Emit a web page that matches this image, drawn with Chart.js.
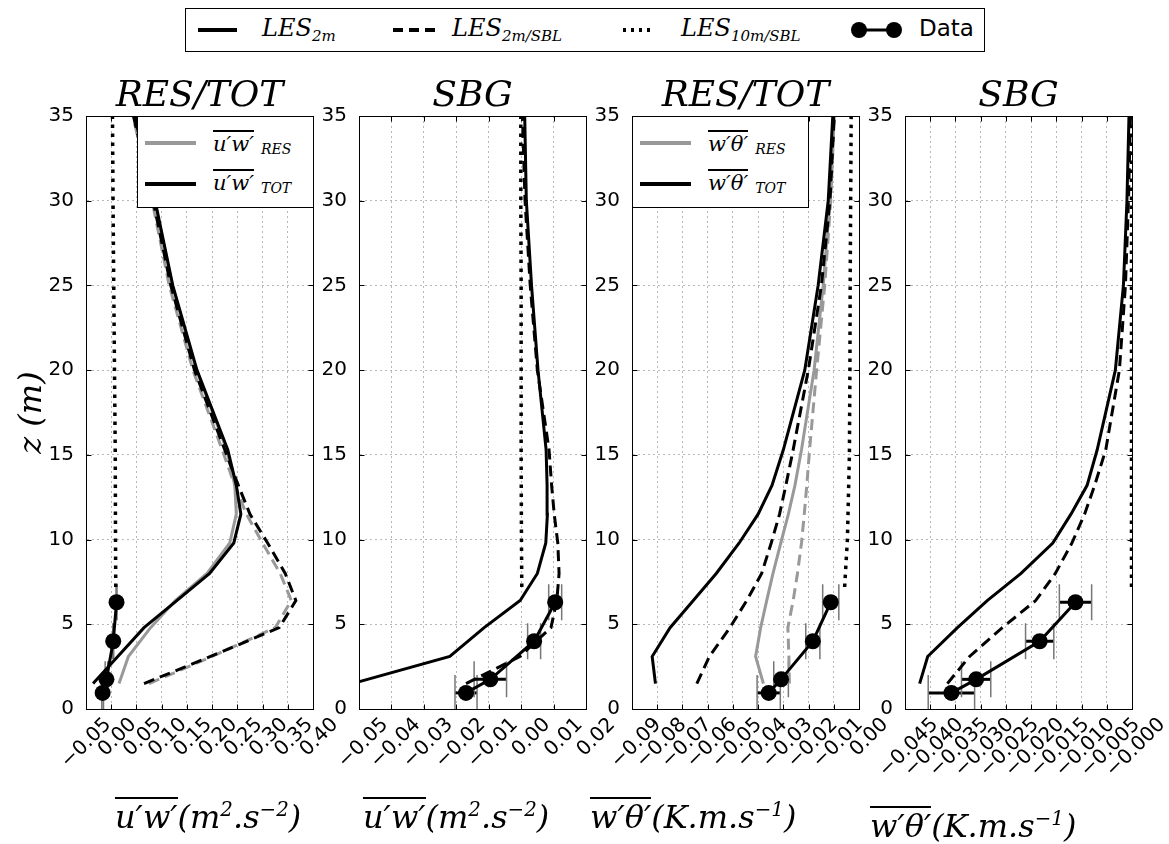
<!DOCTYPE html>
<html><head><meta charset="utf-8">
<script src="https://cdn.jsdelivr.net/npm/chart.js@4.4.1/dist/chart.umd.min.js"></script>
<style>
body{margin:0;background:#fff;}
#wrap{position:relative;width:1169px;height:844px;overflow:hidden;background:#fff;}
#wrap canvas{position:absolute;top:0;}
.m{font-family:"DejaVu Serif",serif;font-style:italic;color:#000;white-space:nowrap;}
.ov{display:inline-block;border-top:2px solid #000;line-height:1;padding-top:2px;}
.abs{position:absolute;}
.plg{position:absolute;background:#fff;border:1px solid #000;box-sizing:border-box;z-index:5;}
.ls{position:absolute;height:4px;}
sup{font-size:0.62em;vertical-align:0.6em;line-height:0;}
</style></head>
<body>
<div id="wrap">
  <canvas id="c1" width="359" height="844" style="left:0px"></canvas>
  <canvas id="c2" width="319" height="844" style="left:313px"></canvas>
  <canvas id="c3" width="319" height="844" style="left:586px"></canvas>
  <canvas id="c4" width="319" height="844" style="left:859px"></canvas>

  <!-- top legend -->
  <div class="abs" style="left:185px;top:8px;width:800px;height:44px;border:1.5px solid #000;box-sizing:border-box;background:#fff;z-index:5;">
    <svg width="800" height="44" style="position:absolute;left:0;top:0">
      <line x1="12" y1="21" x2="51" y2="21" stroke="#000" stroke-width="4"/>
      <line x1="207" y1="21" x2="255" y2="21" stroke="#000" stroke-width="4" stroke-dasharray="10,6"/>
      <line x1="437" y1="21" x2="464" y2="21" stroke="#000" stroke-width="4" stroke-dasharray="3,5"/>
      <line x1="673" y1="21" x2="708" y2="21" stroke="#000" stroke-width="3"/>
      <circle cx="673" cy="21" r="8" fill="#000"/>
      <circle cx="708" cy="21" r="8" fill="#000"/>
    </svg>
    <div class="abs m" style="left:76px;top:7px;font-size:24px;line-height:1">LES<span style="font-size:15px;position:relative;top:5px">2m</span></div>
    <div class="abs m" style="left:266px;top:7px;font-size:24px;line-height:1">LES<span style="font-size:15px;position:relative;top:5px">2m/SBL</span></div>
    <div class="abs m" style="left:495px;top:7px;font-size:24px;line-height:1">LES<span style="font-size:15px;position:relative;top:5px">10m/SBL</span></div>
    <div class="abs" style="left:733px;top:8px;font-size:23px;line-height:1;font-family:'DejaVu Sans',sans-serif">Data</div>
  </div>

  <!-- panel legends -->
  <div class="plg" style="left:137px;top:116px;width:177px;height:92px;">
    <div class="ls" style="left:7px;top:24px;width:51px;background:#999"></div>
    <div class="ls" style="left:7px;top:65px;width:51px;background:#000"></div>
    <div class="abs m" style="left:75px;top:13px;font-size:21px;"><span class="ov">u′w′</span><span style="font-size:14px;margin-left:7px;position:relative;top:3px">RES</span></div>
    <div class="abs m" style="left:75px;top:52px;font-size:21px;"><span class="ov">u′w′</span><span style="font-size:14px;margin-left:7px;position:relative;top:3px">TOT</span></div>
  </div>
  <div class="plg" style="left:632px;top:116px;width:177px;height:92px;">
    <div class="ls" style="left:7px;top:24px;width:51px;background:#999"></div>
    <div class="ls" style="left:7px;top:65px;width:51px;background:#000"></div>
    <div class="abs m" style="left:75px;top:13px;font-size:21px;"><span class="ov">w′θ′</span><span style="font-size:14px;margin-left:7px;position:relative;top:3px">RES</span></div>
    <div class="abs m" style="left:75px;top:52px;font-size:21px;"><span class="ov">w′θ′</span><span style="font-size:14px;margin-left:7px;position:relative;top:3px">TOT</span></div>
  </div>

  <!-- x-axis labels -->
  <div class="abs m" style="left:115px;top:797px;font-size:32px;line-height:1"><span class="ov">u′w′</span>(m<sup>2</sup>.s<sup>−2</sup>)</div>
  <div class="abs m" style="left:363px;top:797px;font-size:32px;line-height:1"><span class="ov">u′w′</span>(m<sup>2</sup>.s<sup>−2</sup>)</div>
  <div class="abs m" style="left:590px;top:797px;font-size:32px;line-height:1"><span class="ov">w′θ′</span>(K.m.s<sup>−1</sup>)</div>
  <div class="abs m" style="left:870px;top:806px;font-size:32px;line-height:1"><span class="ov">w′θ′</span>(K.m.s<sup>−1</sup>)</div>
</div>
<script>
// ---------------- data ----------------
const zModel = [1.5, 3.1, 4.8, 6.4, 8.0, 9.8, 11.5, 13.2, 15.3, 20, 25, 30, 35];
const zDot   = [7.2, 10, 15, 20, 25, 30, 35];
const zData  = [0.95, 1.75, 4.0, 6.3];

// panel 1 : u'w' RES/TOT
const uwTot2m  = [-0.036, 0.013, 0.065, 0.13, 0.195, 0.243, 0.257, 0.248, 0.231, 0.170, 0.122, 0.087, 0.046];
const uwRes2m  = [0.0155, 0.034, 0.078, 0.127, 0.19, 0.235, 0.248, 0.245, 0.229, 0.169, 0.121, 0.086, 0.045];
const uwTotSBL = [0.065, 0.197, 0.333, 0.366, 0.345, 0.31, 0.275, 0.252, 0.225, 0.165, 0.118, 0.083, 0.044];
const uwResSBL = [0.075, 0.2, 0.325, 0.357, 0.335, 0.30, 0.268, 0.245, 0.22, 0.162, 0.115, 0.081, 0.043];
const uwTot10  = [0.009, 0.0085, 0.008, 0.0065, 0.005, 0.0036, 0.0025];

// panel 2 : u'w' SBG
const uwSbg2m  = [-0.052, -0.022, -0.0114, -0.0003, 0.005, 0.0076, 0.0081, 0.008, 0.0077, 0.0052, 0.0032, 0.0016, 0.0011];
const uwSbgSBL = [-0.017, -0.0004, 0.0092, 0.011, 0.0117, 0.0113, 0.0102, 0.0094, 0.0086, 0.0050, 0.0028, 0.0012, 0.0004];
const uwSbg10  = [0.0002, 0.0001, 0.0, 0.0, 0.0, -0.0001, -0.0001];

// panel 3 : w'theta' RES/TOT
const wtTot2m  = [-0.0807, -0.082, -0.0749, -0.0657, -0.0566, -0.0475, -0.040, -0.0345, -0.030, -0.0215, -0.0162, -0.0122, -0.0104];
const wtRes2m  = [-0.0379, -0.041, -0.039, -0.0366, -0.0341, -0.031, -0.028, -0.0254, -0.0228, -0.0178, -0.0142, -0.0115, -0.0100];
const wtTotSBL = [-0.0643, -0.0593, -0.0512, -0.0445, -0.0386, -0.0348, -0.0315, -0.0290, -0.0261, -0.0201, -0.0149, -0.0115, -0.0098];
const wtResSBL = [-0.0276, -0.0278, -0.0282, -0.0261, -0.0244, -0.0228, -0.0217, -0.0207, -0.0196, -0.0168, -0.0136, -0.0112, -0.0098];
const wtTot10  = [-0.0057, -0.0046, -0.0038, -0.0036, -0.0035, -0.0033, -0.0031];

// panel 4 : w'theta' SBG
const wtSbg2m  = [-0.0421, -0.0405, -0.0346, -0.0287, -0.022, -0.0157, -0.0121, -0.0089, -0.0069, -0.0033, -0.0017, -0.0010, -0.0006];
const wtSbgSBL = [-0.0366, -0.0322, -0.0257, -0.0191, -0.0152, -0.0119, -0.0094, -0.0074, -0.0052, -0.0025, -0.0013, -0.0007, -0.0003];
const wtSbg10  = [-0.0001, -0.0001, -0.0001, -0.0001, -0.0001, -0.0001, -0.0001];

// observations
const uwData = [-0.017, -0.0095, 0.004, 0.0105];
const uwErr  = [0.0034, 0.005, 0.002, 0.002];
const wtData = [-0.0358, -0.0309, -0.0183, -0.0112];
const wtErr  = [0.0046, 0.0029, 0.0028, 0.0032];

// axis ranges / ticks
const panelTitles = ['RES/TOT', 'SBG', 'RES/TOT', 'SBG'];
const xMin  = [-0.05, -0.05, -0.09, -0.045];
const xMax  = [0.40, 0.02, 0.00, 0.000];
const xStep = [0.05, 0.01, 0.01, 0.005];
const xDec  = [2, 2, 2, 3];
const zeroNeg = [false, false, false, true];   // last panel prints "−0.000"
const yTicksStep = 5;

// ---------------- helpers ----------------
const pts = (zs, vs) => zs.map((z, i) => ({x: vs[i], y: z}));
const GRAY = '#999999';
const labelShift = [22, 26, 26, 30];
function line(label, zs, vs, color, dash, width) {
  return {label, data: pts(zs, vs), showLine: true, borderColor: color, backgroundColor: color,
          borderWidth: width || 3, borderDash: dash || [], pointRadius: 0, tension: 0, fill: false};
}
function obs(vs, err) {
  return {label: 'Data', data: pts(zData, vs), showLine: true, borderColor: '#000', backgroundColor: '#000',
          borderWidth: 3, pointRadius: 8, pointBorderWidth: 0, xErr: err, tension: 0};
}
const DASH = [11, 6], DOT = [3.5, 5.5];

const framePlugin = {
  id: 'frame',
  afterDraw(chart) {
    const {ctx, chartArea: a, scales: {x, y}} = chart;
    ctx.save();
    ctx.strokeStyle = '#000'; ctx.lineWidth = 1;
    const L = Math.round(a.left) + 0.5, R = Math.round(a.right) + 0.5, T = Math.round(a.top) + 0.5, B = Math.round(a.bottom) + 0.5;
    ctx.strokeRect(L, T, R - L, B - T);
    ctx.beginPath();
    x.ticks.forEach(t => { const p = Math.round(x.getPixelForValue(t.value)) + 0.5; ctx.moveTo(p, B); ctx.lineTo(p, B - 5); ctx.moveTo(p, T); ctx.lineTo(p, T + 5); });
    y.ticks.forEach(t => { const p = Math.round(y.getPixelForValue(t.value)) + 0.5; ctx.moveTo(L, p); ctx.lineTo(L + 5, p); ctx.moveTo(R, p); ctx.lineTo(R - 5, p); });
    ctx.stroke();
    ctx.restore();
  }
};
const errPlugin = {
  id: 'errbars',
  beforeDatasetsDraw(chart) {
    const {ctx, chartArea: a, scales: {x, y}} = chart;
    ctx.save();
    ctx.beginPath(); ctx.rect(a.left, a.top, a.width, a.height); ctx.clip();
    chart.data.datasets.forEach(ds => {
      if (!ds.xErr) return;
      ds.data.forEach((p, i) => {
        const yp = y.getPixelForValue(p.y);
        const x0 = x.getPixelForValue(p.x - ds.xErr[i]), x1 = x.getPixelForValue(p.x + ds.xErr[i]);
        ctx.strokeStyle = '#000'; ctx.lineWidth = 3;
        ctx.beginPath(); ctx.moveTo(x0, yp); ctx.lineTo(x1, yp); ctx.stroke();
        ctx.strokeStyle = '#777'; ctx.lineWidth = 1.5;
        ctx.beginPath(); ctx.moveTo(x0, yp - 18); ctx.lineTo(x0, yp + 18); ctx.moveTo(x1, yp - 18); ctx.lineTo(x1, yp + 18); ctx.stroke();
      });
    });
    ctx.restore();
  }
};

function fmtTick(i, v) {
  const dec = xDec[i];
  if (Math.abs(v) < 1e-12) return (zeroNeg[i] ? '\u2212' : '') + (0).toFixed(dec);
  return v.toFixed(dec).replace('-', '\u2212');
}

function makePanel(i, canvasId, axW, datasets, yTitle) {
  return new Chart(document.getElementById(canvasId), {
    type: 'scatter',
    data: {datasets},
    options: {
      responsive: false, animation: false, events: [],
      layout: {padding: {left: 0, right: 46, top: 0, bottom: 0}},
      plugins: {
        legend: {display: false}, tooltip: {enabled: false},
        title: {display: true, text: panelTitles[i], fullSize: false, color: '#000',
                font: {family: 'DejaVu Serif', style: 'italic', weight: 'normal', size: 36, lineHeight: 1},
                padding: {top: 79, bottom: 1}}
      },
      scales: {
        x: {
          type: 'linear', min: xMin[i], max: xMax[i],
          ticks: {stepSize: xStep[i], autoSkip: false, minRotation: 45, maxRotation: 45, color: '#000', padding: 4,
                  labelOffset: labelShift[i],
                  font: {family: 'DejaVu Sans', size: 20},
                  callback: v => fmtTick(i, v)},
          grid: {color: '#b8b8b8', lineWidth: 1, drawTicks: false, tickLength: 0},
          border: {display: true, color: '#000', width: 1, dash: [2, 3]},
          afterFit: s => { s.height = 135; s.paddingLeft = 0; s.paddingRight = 0; }
        },
        y: {
          type: 'linear', min: 0, max: 35,
          ticks: {stepSize: yTicksStep, color: '#000', padding: 12, font: {family: 'DejaVu Sans', size: 20}},
          grid: {color: '#b8b8b8', lineWidth: 1, drawTicks: false, tickLength: 0},
          border: {display: true, color: '#000', width: 1, dash: [2, 3]},
          title: yTitle ? {display: true, text: yTitle, color: '#000',
                 font: {family: 'DejaVu Serif', style: 'italic', weight: 'normal', size: 32, lineHeight: 1}, padding: {top: 17, bottom: 0}} : {display: false},
          afterFit: s => { s.width = axW; s.paddingTop = 0; s.paddingBottom = 0; }
        }
      }
    },
    plugins: [errPlugin, framePlugin]
  });
}

makePanel(0, 'c1', 86, [
  obs(uwData, uwErr.map(e => e * 0.5)),
  line('TOT LES2m', zModel, uwTot2m, '#000'),
  line('TOT LES2m/SBL', zModel, uwTotSBL, '#000', DASH),
  line('TOT LES10m/SBL', zDot, uwTot10, '#000', DOT, 3.5),
  line('RES LES2m', zModel, uwRes2m, GRAY),
  line('RES LES2m/SBL', zModel, uwResSBL, GRAY, DASH)
], 'z (m)');

makePanel(1, 'c2', 46, [
  obs(uwData, uwErr),
  line('SBG LES2m', zModel, uwSbg2m, '#000'),
  line('SBG LES2m/SBL', zModel, uwSbgSBL, '#000', DASH),
  line('SBG LES10m/SBL', zDot, uwSbg10, '#000', DOT, 3.5)
]);

makePanel(2, 'c3', 46, [
  obs(wtData, wtErr),
  line('TOT LES2m', zModel, wtTot2m, '#000'),
  line('TOT LES2m/SBL', zModel, wtTotSBL, '#000', DASH),
  line('TOT LES10m/SBL', zDot, wtTot10, '#000', DOT, 3.5),
  line('RES LES2m', zModel, wtRes2m, GRAY),
  line('RES LES2m/SBL', zModel, wtResSBL, GRAY, DASH)
]);

makePanel(3, 'c4', 46, [
  obs(wtData, wtErr),
  line('SBG LES2m', zModel, wtSbg2m, '#000'),
  line('SBG LES2m/SBL', zModel, wtSbgSBL, '#000', DASH),
  line('SBG LES10m/SBL', zDot, wtSbg10, '#000', DOT, 3.5)
]);
</script>
</body></html>
